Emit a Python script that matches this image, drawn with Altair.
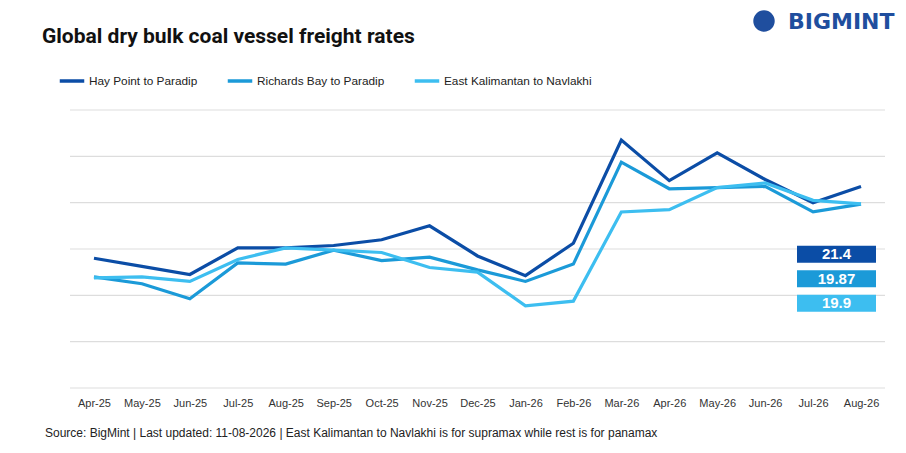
import altair as alt
import pandas as pd

months = ["Apr-25", "May-25", "Jun-25", "Jul-25", "Aug-25", "Sep-25", "Oct-25", "Nov-25",
          "Dec-25", "Jan-26", "Feb-26", "Mar-26", "Apr-26", "May-26", "Jun-26", "Jul-26", "Aug-26"]
series_names = ["Hay Point to Paradip", "Richards Bay to Paradip", "East Kalimantan to Navlakhi"]
hay_point = [15.2, 14.5, 13.8, 16.1, 16.1, 16.3, 16.8, 18.0, 15.4, 13.7, 16.5, 25.4, 21.9, 24.3, 22.0, 20.0, 21.4]
richards_bay = [13.6, 13.0, 11.7, 14.8, 14.7, 15.9, 15.0, 15.3, 14.2, 13.2, 14.7, 23.5, 21.2, 21.3, 21.4, 19.2, 19.87]
east_kalimantan = [13.5, 13.6, 13.2, 15.1, 16.1, 15.9, 15.7, 14.4, 14.0, 11.1, 11.5, 19.2, 19.4, 21.3, 21.7, 20.2, 19.9]
y_ticks = [4, 8, 12, 16, 20, 24, 28]
last_labels = ["21.4", "19.87", "19.9"]
colors = ["#0B4DA6", "#1B9AD8", "#3DBEF0"]

rows = []
for name, vals in zip(series_names, [hay_point, richards_bay, east_kalimantan]):
    for m, v in zip(months, vals):
        rows.append({"month": m, "series": name, "value": v})
df = pd.DataFrame(rows)

box_df = pd.DataFrame({"series": series_names, "label": last_labels, "idx": [0, 1, 2]})
grid_df = pd.DataFrame({"value": y_ticks})
one = pd.DataFrame({"a": [0]})

W, H = 815, 278

yscale = alt.Scale(domain=[4, 28], nice=False, zero=False)

grid = alt.Chart(grid_df).mark_rule(color="#dddddd", strokeWidth=1.2).encode(
    y=alt.Y("value:Q", scale=yscale, axis=None),
    x=alt.value(0), x2=alt.value(W),
)

lines = alt.Chart(df).mark_line(strokeWidth=3.2, strokeJoin="miter").encode(
    x=alt.X("month:N", sort=months, title=None,
            scale=alt.Scale(type="point", padding=0.5),
            axis=alt.Axis(labelAngle=0, domain=False, ticks=False, grid=False,
                          labelFont="Liberation Sans", labelFontSize=11,
                          labelColor="#333333", labelPadding=9)),
    y=alt.Y("value:Q", title="$/t", scale=yscale,
            axis=alt.Axis(values=y_ticks, domain=False, ticks=False, grid=False,
                          labelFont="Liberation Sans", labelFontSize=12,
                          labelColor="#333333", labelPadding=10,
                          titleFont="Liberation Sans", titleFontSize=12,
                          titleFontWeight="normal", titleColor="#222222",
                          titlePadding=10)),
    color=alt.Color("series:N", sort=series_names,
                    scale=alt.Scale(domain=series_names, range=colors),
                    legend=alt.Legend(orient="none", legendX=-12, legendY=-43,
                                      direction="horizontal", title=None,
                                      symbolType="stroke", symbolSize=600,
                                      symbolStrokeWidth=3.5, labelOffset=3,
                                      columnPadding=22,
                                      labelFont="Liberation Sans", labelFontSize=11.8,
                                      labelColor="#222222")),
)

boxes_base = alt.Chart(box_df).transform_calculate(
    yt="16.28 - datum.idx * 2.115",
    yb="14.82 - datum.idx * 2.115",
    ym="15.55 - datum.idx * 2.115",
)
boxes = boxes_base.mark_rect().encode(
    x=alt.value(727), x2=alt.value(806),
    y=alt.Y("yt:Q", scale=yscale), y2=alt.Y2("yb:Q"),
    color=alt.Color("series:N", scale=alt.Scale(domain=series_names, range=colors), legend=None),
)
box_text = boxes_base.mark_text(font="Liberation Sans", fontWeight="bold", fontSize=15,
                                color="white", baseline="middle", align="center").encode(
    x=alt.value(766.5), y=alt.Y("ym:Q", scale=yscale), text="label:N",
)

title = alt.Chart(one).mark_text(text="Global dry bulk coal vessel freight rates",
                                 font="Liberation Sans Narrow, Roboto", fontWeight="bold",
                                 fontSize=21, color="#111111", align="left",
                                 baseline="middle").encode(x=alt.value(-28), y=alt.value(-73))
source = alt.Chart(one).mark_text(
    text="Source: BigMint | Last updated: 11-08-2026 | East Kalimantan to Navlakhi is for supramax while rest is for panamax",
    font="Liberation Sans", fontSize=12, color="#222222", align="left",
    baseline="middle").encode(x=alt.value(-25), y=alt.value(323))
logo_circle = alt.Chart(one).mark_point(shape="circle", filled=True, size=460,
                                        color="#1F4E9E", opacity=1).encode(
    x=alt.value(694), y=alt.value(-89))
logo_text = alt.Chart(one).mark_text(text="BIGMINT", font="DejaVu Sans", fontWeight="bold",
                                     fontSize=22, color="#1F4E9E", align="left",
                                     baseline="middle").encode(x=alt.value(718), y=alt.value(-88))

chart = alt.layer(grid, lines, boxes, box_text, title, source, logo_circle, logo_text).properties(
    width=W, height=H,
    autosize=alt.AutoSizeParams(type="none"),
    padding={"left": 62, "top": 102, "right": 13, "bottom": 57},
).configure(
    background="white",
    view=alt.ViewConfig(stroke="transparent", strokeWidth=0, strokeOpacity=0),
    axis=alt.AxisConfig(domain=False, grid=False),
)

chart.save("out.html", embed_options={"renderer": "svg", "actions": False})
